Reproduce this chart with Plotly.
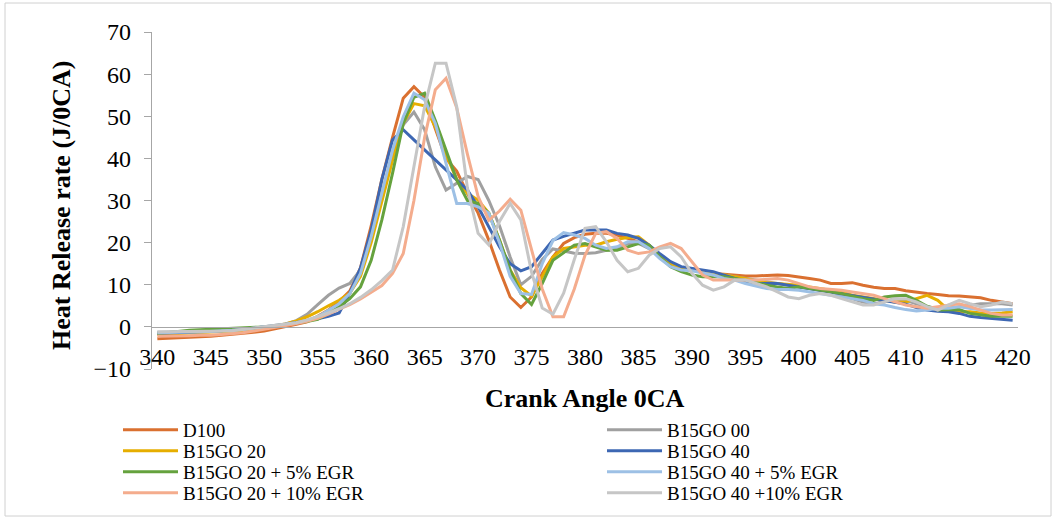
import plotly.graph_objects as go

crank_angle = list(range(340, 421))

d100 = [-2.8, -2.7, -2.6, -2.5, -2.4, -2.2, -2.0, -1.8, -1.6, -1.3, -1.0, -0.5, 0.0, 0.6, 1.2, 2.5, 4.0, 6.0, 8.5, 14,
        24, 35, 45, 54.3, 57, 54.5, 47, 40, 37, 31.7, 27, 20.6, 13.5, 7.1, 4.6, 7.1, 12.7, 16.6, 19.8, 21.2,
        22, 22.2, 22.2, 21.8, 21, 20.2, 19, 17, 15, 14.1, 13.6, 13.1, 12.7, 12.5, 12.3, 12.1, 12.1, 12.2, 12.3, 12.2,
        11.9, 11.5, 11.1, 10.3, 10.3, 10.5, 9.9, 9.4, 9.1, 9.1, 8.6, 8.2, 7.9, 7.7, 7.4, 7.3, 7.1, 6.9, 6.3, 5.9, 5.5]
b15go_00 = [-1.3, -1.2, -1.2, -1.2, -1.2, -1.1, -1.0, -0.9, -0.6, -0.3, 0.0, 0.3, 0.7, 1.5, 3.0, 5.3, 7.5, 9.2, 10.3, 13.5,
            22, 31.7, 41, 48, 51, 46.8, 38, 32.5, 34, 35.7, 35, 30, 24, 16.6, 10, 12, 16, 18.5, 18, 17.5,
            17.4, 17.6, 18.2, 18.6, 19.8, 19.8, 18.6, 16.6, 14.7, 13.9, 13.6, 13.1, 12.7, 12.3, 11.9, 11.5, 11.1, 10.7, 10.3, 9.9,
            9.5, 9.1, 8.7, 8.3, 7.5, 6.7, 5.9, 5.5, 5.9, 6.7, 6.3, 5.5, 4.8, 4.4, 4.4, 4.8, 5.2, 5.5, 5.5, 5.5, 5.2]
b15go_20 = [-1.8, -1.7, -1.6, -1.5, -1.4, -1.3, -1.2, -1.0, -0.8, -0.5, -0.2, 0.2, 0.7, 1.4, 2.4, 3.6, 5.0, 6.3, 8.0, 12,
            20, 30, 39.6, 48.3, 53, 52.5, 47.5, 41, 35, 31.7, 30.1, 27, 20.6, 13.5, 9.3, 7.3, 11.9, 16.6, 18.6, 19,
            19.4, 19.4, 20.2, 20.8, 21.2, 21.4, 19.4, 17, 15, 14.1, 13.6, 13.1, 12.7, 12.3, 11.9, 11.5, 10.9, 10.5, 10.3, 10.1,
            9.9, 9.5, 9.1, 8.7, 8.3, 7.5, 7.1, 6.7, 6.3, 5.9, 5.9, 6.7, 7.5, 6.3, 4.0, 3.6, 3.6, 3.3, 3.2, 3.3, 3.6]
b15go_40 = [-1.6, -1.5, -1.4, -1.3, -1.1, -1.0, -0.9, -0.7, -0.5, -0.3, -0.1, 0.2, 0.6, 1.0, 1.4, 1.9, 2.5, 3.3, 8, 14,
            23, 35, 44.4, 46.8, 44.4, 42, 39.6, 37.2, 34.9, 32.5, 28.5, 23.8, 19, 15, 13.3, 14.3, 17.4, 20.6, 21.5, 22.2,
            23, 23, 23, 22.2, 21.8, 21, 19.4, 17.4, 15.5, 14.3, 13.9, 13.5, 13.1, 12.3, 11.5, 10.7, 10.3, 10.3, 10.3, 9.9,
            9.5, 9.1, 8.7, 8.3, 7.9, 7.5, 7.1, 6.7, 6.3, 5.9, 5.4, 4.6, 4.0, 3.7, 3.6, 3.2, 2.5, 2.2, 2.0, 1.7, 1.6]
b15go_20_egr5 = [-1.6, -1.3, -1.0, -0.8, -0.7, -0.6, -0.5, -0.4, -0.2, -0.1, 0.0, 0.2, 0.5, 0.9, 1.3, 1.8, 3.2, 4.8, 6.7, 9.5,
                 15.8, 25.4, 36.5, 48.3, 54.5, 55.5, 49, 42, 34.9, 30, 29.3, 27, 20.6, 13.5, 7.9, 5.3, 10.3, 15.8, 17.5, 19.4,
                 19.8, 19, 18.2, 18.2, 19, 19.8, 19.4, 16.6, 14.3, 13.1, 12.3, 11.9, 11.9, 11.9, 11.5, 11.1, 10.5, 9.9, 9.5, 9.1,
                 9.5, 9.1, 8.7, 8.3, 7.9, 7.3, 6.7, 6.3, 7.1, 7.4, 7.5, 6.3, 4.9, 4.0, 4.0, 4.1, 3.2, 2.8, 2.5, 2.5, 2.5]
b15go_40_egr5 = [-1.4, -1.3, -1.3, -1.2, -1.2, -1.1, -1.0, -0.8, -0.6, -0.3, -0.1, 0.2, 0.6, 1.0, 1.6, 2.4, 4.0, 5.5, 7.9, 12.7,
                 21.4, 31.7, 42, 49.9, 55.5, 53.9, 48.3, 38.8, 29.3, 29.3, 28.5, 27, 20, 12, 7.9, 7.7, 15, 20.5, 22.4, 21.8,
                 21, 19.4, 18.6, 19, 20.2, 20.2, 18.6, 16.2, 14.3, 13.5, 13.3, 12.8, 12.3, 11.5, 11.1, 10.3, 9.7, 9.1, 8.9, 8.9,
                 8.7, 8.3, 7.9, 7.5, 7.1, 6.7, 6.3, 5.5, 5.2, 4.6, 4.1, 3.8, 4.0, 4.4, 4.4, 4.8, 4.4, 4.0, 4.0, 4.1, 4.1]
b15go_20_egr10 = [-2.2, -2.2, -2.1, -2.1, -2.0, -2.0, -1.8, -1.6, -1.4, -1.0, -0.6, -0.2, 0.3, 0.8, 1.3, 2.0, 3.0, 4.2, 5.3, 6.6,
                  8.1, 9.8, 12.7, 17.4, 30, 45, 56.3, 59, 52, 41, 31, 25.3, 27.5, 30.3, 27.7, 18, 9, 2.4, 2.4, 9,
                  17, 22.2, 22.6, 21, 18.2, 17.4, 17.8, 19, 19.8, 18.6, 15.5, 12.3, 11.1, 11.1, 11.1, 11.1, 11.1, 11.3, 11.5, 11.1,
                  10.3, 9.5, 9.1, 8.9, 8.7, 8.3, 7.9, 7.5, 6.7, 5.9, 5.2, 4.8, 4.4, 4.8, 5.2, 5.5, 4.8, 4.0, 3.2, 2.8, 2.8]
b15go_40_egr10 = [-1.2, -1.1, -1.1, -1.1, -1.1, -1.1, -1.0, -0.9, -0.6, -0.3, 0.0, 0.3, 0.6, 1.0, 1.6, 2.4, 3.3, 4.3, 5.5, 7.0,
                  8.8, 11, 13.5, 23.8, 38, 52.3, 62.6, 62.6, 52.3, 33, 22.2, 19.5, 25, 29.3, 25.4, 13, 4.5, 3.0, 8.0, 16,
                  23.4, 23.8, 20.2, 15.8, 13.1, 13.9, 17, 18.6, 19, 16.6, 12.7, 9.9, 8.7, 9.5, 11.1, 11.1, 10.3, 9.5, 8.3, 7.1,
                  6.7, 7.5, 7.9, 7.5, 6.7, 5.9, 5.2, 5.2, 5.9, 6.7, 6.7, 5.9, 4.8, 4.0, 5.2, 6.3, 5.5, 4.8, 5.2, 5.9, 5.5]

series_names = ["D100", "B15GO 00", "B15GO 20", "B15GO 40",
                "B15GO 20 + 5% EGR", "B15GO 40 + 5% EGR",
                "B15GO 20 + 10% EGR", "B15GO 40 +10% EGR"]
series_values = [d100, b15go_00, b15go_20, b15go_40,
                 b15go_20_egr5, b15go_40_egr5, b15go_20_egr10, b15go_40_egr10]
series_colors = ["#DA7030", "#A0A0A0", "#E6AE00", "#3D67B3",
                 "#65A23E", "#9DC0E5", "#F4AC8D", "#C6C6C6"]

x_ticks = list(range(340, 421, 5))

FONT = "Liberation Serif, Times New Roman, serif"

L, R, T, B = 152, 40, 32, 153
W, H = 1058, 522
pw, ph = W - L - R, H - T - B


def px_x(p):
    return (p - L) / pw


def px_y(p):
    return (H - B - p) / ph


# legend grid (two columns, four rows)
legend_cols_px = [118, 602]
legend_rows_px = [430, 451, 472, 493]

fig = go.Figure()
legends = {}
for i, (name, vals, col) in enumerate(zip(series_names, series_values, series_colors)):
    key = "legend" if i == 0 else f"legend{i + 1}"
    fig.add_trace(go.Scatter(x=crank_angle, y=vals, mode="lines", name=name,
                             line=dict(color=col, width=3), legend=key))
    legends[key] = dict(x=px_x(legend_cols_px[i % 2]), y=px_y(legend_rows_px[i // 2]),
                        xanchor="left", yanchor="middle",
                        font=dict(family=FONT, size=19, color="black"),
                        bgcolor="rgba(0,0,0,0)", borderwidth=0, itemwidth=55)

fig.update_layout(
    width=W, height=H,
    margin=dict(l=L, r=R, t=T, b=B, pad=0, autoexpand=False),
    paper_bgcolor="white", plot_bgcolor="white",
    font=dict(family=FONT, color="black"),
    showlegend=True,
    xaxis=dict(range=[339.5, 420.5], tickmode="array", tickvals=x_ticks,
               ticktext=[str(v) for v in x_ticks],
               anchor="free", position=10 / 80,
               showline=True, linecolor="#A6A6A6", linewidth=1.3,
               ticks="", showgrid=False, zeroline=False,
               tickfont=dict(family=FONT, size=24, color="black"),
               ticklabelstandoff=8),
    yaxis=dict(range=[-10, 70], dtick=10, tick0=0,
               showline=True, linecolor="#A6A6A6", linewidth=1.3,
               ticks="outside", ticklen=7, tickcolor="#A6A6A6", tickwidth=1.3,
               showgrid=False, zeroline=False,
               tickfont=dict(family=FONT, size=24, color="black"),
               ticklabelstandoff=8),
    annotations=[
        dict(text="<b>Heat Release rate (J/0CA)</b>", xref="paper", yref="paper",
             x=px_x(61), y=px_y(205), textangle=-90, showarrow=False,
             font=dict(family=FONT, size=26, color="black"),
             xanchor="center", yanchor="middle"),
        dict(text="<b>Crank Angle 0CA</b>", xref="paper", yref="paper",
             x=px_x(585), y=px_y(398), showarrow=False,
             font=dict(family=FONT, size=26, color="black"),
             xanchor="center", yanchor="middle"),
    ],
    shapes=[dict(type="rect", xref="paper", yref="paper",
                 x0=px_x(5), x1=px_x(1051), y0=px_y(516), y1=px_y(3),
                 line=dict(color="#D0D0D0", width=1), layer="below")],
    **legends,
)

fig.write_html("out.html")
